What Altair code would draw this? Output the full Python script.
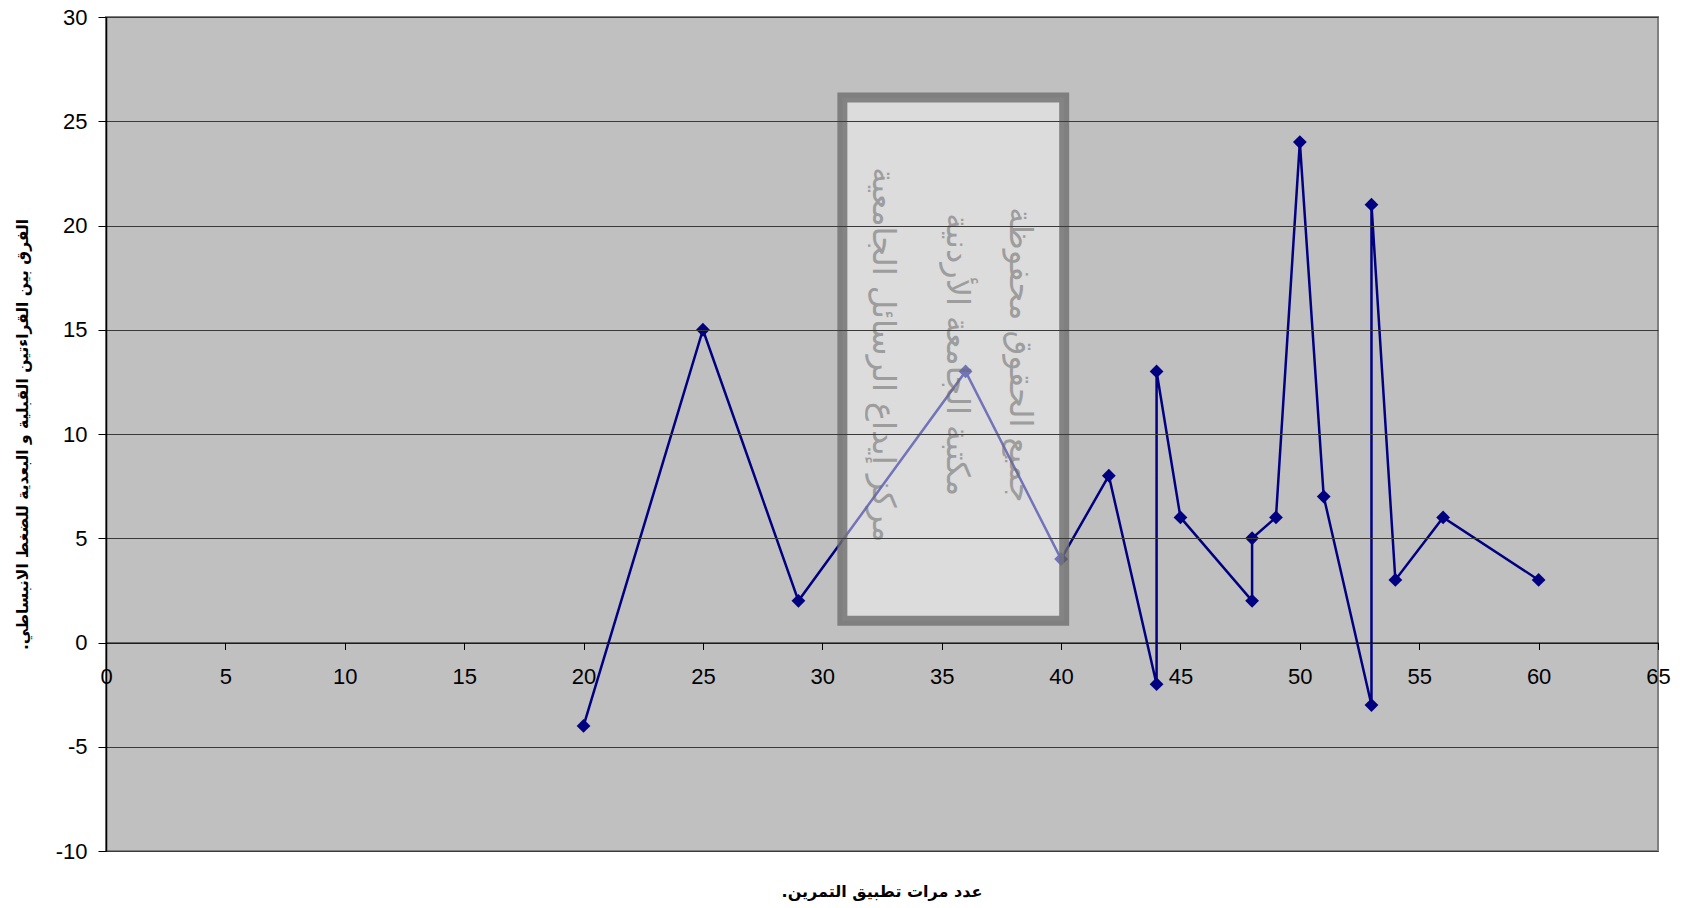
import altair as alt
import pandas as pd

# Number of training sessions and the pre/post difference in diastolic pressure
sessions = [20, 25, 29, 36, 40, 42, 44, 44, 45, 48, 48, 49, 50, 51, 53, 53, 54, 56, 60]
difference = [-4, 15, 2, 13, 4, 8, -2, 13, 6, 2, 5, 6, 24, 7, -3, 21, 3, 6, 3]

x_ticks = list(range(0, 70, 5))
y_ticks = list(range(-10, 35, 5))
x_domain = [0, 65]
y_domain = [-10, 30]

# a right-to-left mark keeps the closing full stop at the end of the Arabic run
RLM = "\u200f"
x_title = "عدد مرات تطبيق التمرين." + RLM
y_title = "الفرق بين القراءتين القبلية و البعدية للضغط الانبساطي." + RLM

# Library stamp laid over the plot (extent in data units)
stamp_lines = ["جميع الحقوق محفوظة", "مكتبة الجامعة الأردنية", "مركز إيداع الرسائل الجامعية"]
stamp_line_x = [38.3, 35.65, 32.55]
stamp_line_y = [13.8, 13.8, 13.8]
stamp_x = [30.84, 40.13]
stamp_y = [1.04, 26.14]

W, H = 1552, 834
# the x axis runs along y = 0
x_axis_offset = -H * (0 - y_domain[0]) / (y_domain[1] - y_domain[0])

df = pd.DataFrame({"x": sessions, "y": difference, "idx": list(range(len(sessions)))})
stamp_df = pd.DataFrame({"x": [stamp_x[0]], "x2": [stamp_x[1]], "y": [stamp_y[0]], "y2": [stamp_y[1]]})
stamp_text_df = pd.DataFrame({"x": stamp_line_x, "y": stamp_line_y, "t": stamp_lines})

xs = alt.Scale(domain=x_domain, nice=False, zero=False)
ys = alt.Scale(domain=y_domain, nice=False, zero=False)

plain_label = "'' + datum.value"

x_enc = alt.X(
    "x:Q", scale=xs, title=None,
    axis=alt.Axis(
        values=x_ticks, offset=x_axis_offset, grid=False, title=None,
        domainColor="#000000", domainWidth=1.2, tickColor="#000000", tickSize=7,
        labelFont="Liberation Sans", labelFontSize=22, labelColor="#000000",
        labelPadding=17, labelFlush=False, labelOverlap=False, labelExpr=plain_label, zindex=1,
    ),
)
y_enc = alt.Y(
    "y:Q", scale=ys, title=y_title,
    axis=alt.Axis(
        values=y_ticks, grid=True, gridColor="#3a3a3a", gridWidth=1, gridOpacity=1,
        domainColor="#000000", domainWidth=1.5, tickColor="#000000", tickSize=8,
        labelFont="Liberation Sans", labelFontSize=22, labelColor="#000000",
        labelPadding=11, labelFlush=False, labelOverlap=False, labelExpr=plain_label,
        title=y_title, titleFont="DejaVu Sans", titleFontSize=15.5, titleFontWeight="bold",
        titleColor="#000000", titlePadding=25, zindex=1,
    ),
)
x_plain = alt.X("x:Q", scale=xs, title=None)
y_plain = alt.Y("y:Q", scale=ys, title=y_title)

line = alt.Chart(df).mark_line(color="#000080", strokeWidth=2.5).encode(
    x=x_enc, y=y_enc, order=alt.Order("idx:Q"),
)
points = alt.Chart(df).mark_point(shape="diamond", filled=True, size=190, color="#000080", opacity=1).encode(
    x=x_plain, y=y_plain,
)
stamp = alt.Chart(stamp_df).mark_rect(
    fill="#ffffff", fillOpacity=0.45, stroke="#6e6e6e", strokeOpacity=0.8, strokeWidth=10,
).encode(
    x=x_plain, x2="x2:Q", y=y_plain, y2="y2:Q",
)
stamp_text = alt.Chart(stamp_text_df).mark_text(
    angle=90, font="DejaVu Sans", fontSize=32, color="#6a6a6a", opacity=0.55,
    align="center", baseline="middle",
).encode(
    x=x_plain, y=y_plain, text="t:N",
)

chart = (
    alt.layer(line, points, stamp, stamp_text)
    .properties(
        width=W, height=H,
        background="#ffffff",
        autosize=alt.AutoSizeParams(type="none"),
        padding={"left": 106, "top": 17, "right": 28, "bottom": 57},
        title=alt.TitleParams(
            x_title, orient="bottom", anchor="middle", font="DejaVu Sans", fontSize=16,
            fontWeight="bold", color="#000000", offset=22,
        ),
    )
    .configure_view(fill="#c0c0c0", stroke="#808080", strokeWidth=2)
)

chart.save("out.html", embed_options={"renderer": "svg", "actions": False})
